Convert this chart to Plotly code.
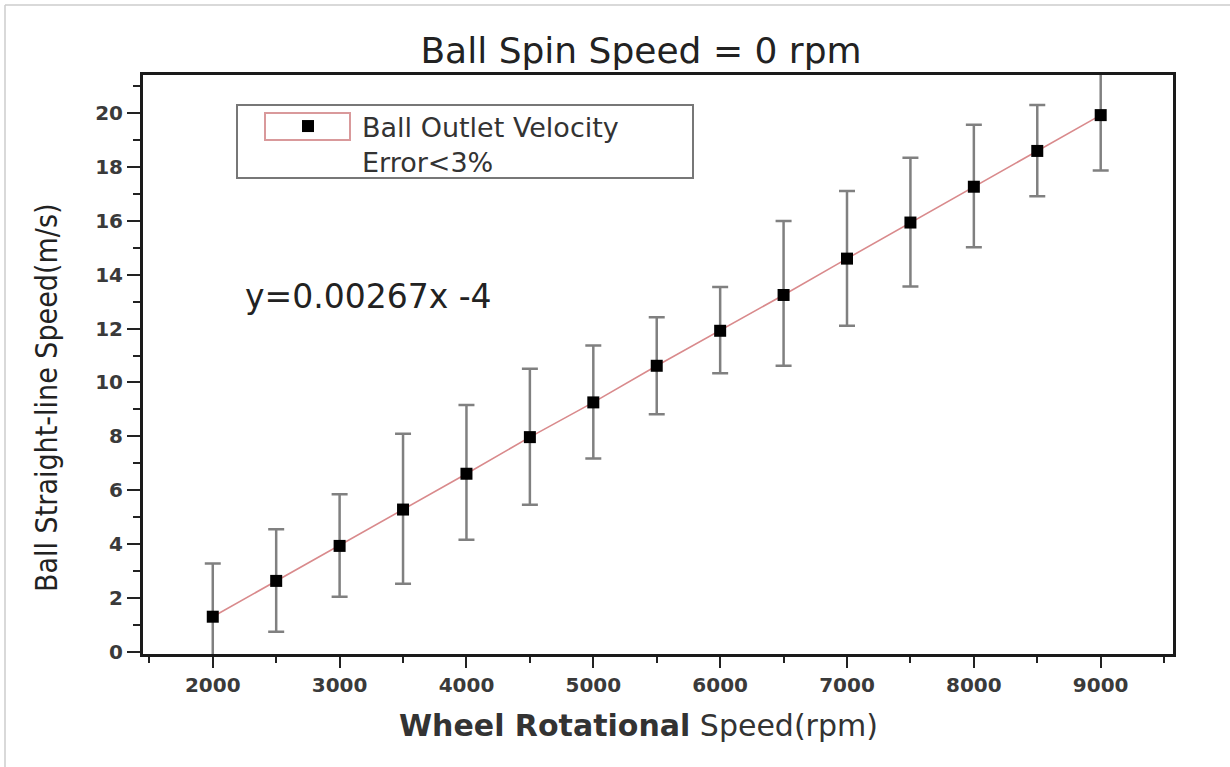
import plotly.graph_objects as go

# ---- data ----
rpm = [2000, 2500, 3000, 3500, 4000, 4500, 5000, 5500, 6000, 6500, 7000, 7500, 8000, 8500, 9000]
speed = [1.30, 2.63, 3.93, 5.28, 6.61, 7.97, 9.26, 10.62, 11.92, 13.25, 14.60, 15.94, 17.27, 18.60, 19.93]
err_up = [1.98, 1.92, 1.92, 2.82, 2.55, 2.54, 2.11, 1.80, 1.63, 2.75, 2.51, 2.41, 2.30, 1.71, 2.06]
err_down = [1.98, 1.89, 1.89, 2.76, 2.45, 2.51, 2.08, 1.80, 1.58, 2.63, 2.49, 2.38, 2.25, 1.68, 2.06]
x_ticks = [2000, 3000, 4000, 5000, 6000, 7000, 8000, 9000]
y_ticks = [0, 2, 4, 6, 8, 10, 12, 14, 16, 18, 20]

title_text = "Ball Spin Speed = 0 rpm"
x_title = "<b>Wheel Rotational</b> Speed(rpm)"
y_title = "Ball Straight-line Speed(m/s)"
legend_name = "Ball Outlet Velocity<br>Error&lt;3%"
equation = "y=0.00267x -4"

# ---- layout helpers (pixel -> paper) ----
W, H = 1230, 767
L, R, T, B = 143, 1173, 75, 654


def px(x):
    return (x - L) / (R - L)


def py(y):
    return (B - y) / (B - T)


fig = go.Figure()

fig.add_trace(go.Scatter(
    x=rpm, y=speed, mode="lines",
    line=dict(color="#d98a8c", width=1.6),
    showlegend=False, hoverinfo="skip",
))

fig.add_trace(go.Scatter(
    x=rpm, y=speed, mode="markers", name=legend_name,
    marker=dict(symbol="square", size=12, color="#000000"),
    error_y=dict(type="data", symmetric=False, array=err_up, arrayminus=err_down,
                 color="#808080", thickness=2.5, width=8),
))

axis_common = dict(
    showgrid=False, zeroline=False, showline=True, linecolor="#1a1a1a", linewidth=3,
    mirror=True, ticks="outside", tickcolor="#222222", tickwidth=2,
    tickfont=dict(family="DejaVu Sans", size=20, color="#3a3a3a", weight="bold"),
)

fig.update_xaxes(
    range=[1450, 9570], tickvals=x_ticks, ticklen=11,
    minor=dict(dtick=500, tick0=0, ticks="outside", ticklen=6, tickwidth=2, tickcolor="#222222"),
    **axis_common,
)
fig.update_yaxes(
    range=[-0.085, 21.42], tickvals=y_ticks, ticklen=13,
    minor=dict(dtick=1, tick0=0, ticks="outside", ticklen=7, tickwidth=2, tickcolor="#222222"),
    **axis_common,
)

fig.update_layout(
    width=W, height=H,
    margin=dict(l=L, r=W - R, t=T, b=H - B, autoexpand=False),
    paper_bgcolor="white", plot_bgcolor="white",
    title=dict(text=title_text, x=641 / W, xanchor="center", y=1 - 50 / H, yanchor="middle",
               font=dict(family="DejaVu Sans", size=36, color="#222222")),
    legend=dict(
        x=px(254), y=py(102), xanchor="left", yanchor="top",
        borderwidth=0, bgcolor="rgba(0,0,0,0)",
        font=dict(family="DejaVu Sans", size=27, color="#333333"),
        itemwidth=98, valign="top",
    ),
    showlegend=True,
)

# y-axis title and x-axis title as annotations (positioned like reference)
fig.add_annotation(
    text=y_title, textangle=-90, xref="paper", yref="paper",
    x=px(46), y=py(398), xanchor="center", yanchor="middle", showarrow=False,
    font=dict(family="Liberation Sans Narrow, DejaVu Sans Condensed, Arial Narrow, sans-serif",
              size=30, color="#222222"),
)
fig.add_annotation(
    text=x_title, xref="paper", yref="paper",
    x=px(638), y=py(725), xanchor="center", yanchor="middle", showarrow=False,
    font=dict(family="DejaVu Sans", size=30, color="#333333"),
)
fig.add_annotation(
    text=equation, xref="paper", yref="paper",
    x=px(243), y=py(296), xanchor="left", yanchor="middle", showarrow=False,
    font=dict(family="DejaVu Sans", size=33, color="#222222"),
)

# legend frame (grey) and red frame around the legend symbol (Origin style)
fig.add_shape(type="rect", xref="paper", yref="paper",
              x0=px(237), x1=px(693), y0=py(178), y1=py(105),
              line=dict(color="#777777", width=2), layer="above")
fig.add_shape(type="rect", xref="paper", yref="paper",
              x0=px(265), x1=px(350), y0=py(140), y1=py(113),
              line=dict(color="#d9999b", width=2), layer="above")

# light grey outer image border (top & left)
fig.add_shape(type="line", xref="paper", yref="paper",
              x0=px(5), x1=px(1230), y0=py(5), y1=py(5),
              line=dict(color="#cccccc", width=1.5))
fig.add_shape(type="line", xref="paper", yref="paper",
              x0=px(5), x1=px(5), y0=py(5), y1=py(767),
              line=dict(color="#cccccc", width=1.5))

fig.write_html("out.html")
